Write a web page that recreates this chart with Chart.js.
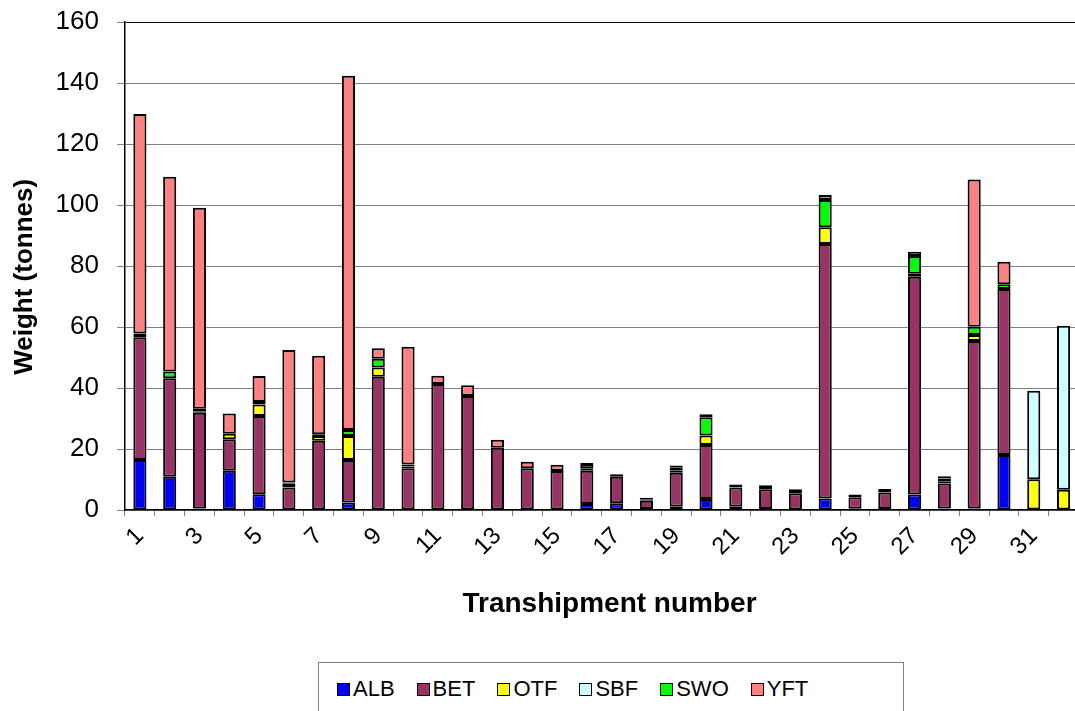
<!DOCTYPE html>
<html lang="en">
<head>
    <meta charset="UTF-8">
    <title>Transhipment weights</title>
    <script src="https://cdn.jsdelivr.net/npm/chart.js"></script>
    <style>
        body {
            margin: 0;
            padding: 0;
            background: #fff;
            overflow: hidden;
            font-family: 'Liberation Sans', Arial, sans-serif;
        }
        #wrap {
            position: relative;
            width: 1090px;
            height: 711px;
        }
        #chartBox {
            position: absolute;
            left: 0;
            top: 0;
            width: 1090px;
            height: 640px;
        }
        #legend {
            position: absolute;
            left: 318px;
            top: 662px;
            width: 586px;
            height: 60px;
            border: 1px solid #808080;
            box-sizing: border-box;
            display: flex;
            justify-content: flex-start;
            padding: 13px 0 0 18px;
            font-size: 22px;
            color: #000;
        }
        .item {
            display: flex;
            align-items: center;
            margin-right: 22px;
            height: 26px;
        }
        .swatch {
            width: 11px;
            height: 11px;
            border: 1.5px solid #000;
            margin-right: 3px;
        }
    </style>
</head>
<body>

<div id="wrap">
    <div id="chartBox"><canvas id="chart"></canvas></div>
    <div id="legend"></div>
</div>

<script>
    // transhipment numbers
    const categories = ['1', '2', '3', '4', '5', '6', '7', '8', '9', '10', '11', '12', '13', '14', '15', '16',
        '17', '18', '19', '20', '21', '22', '23', '24', '25', '26', '27', '28', '29', '30', '31', '32'];

    // weight by species (tonnes)
    const alb = [16.4, 10.9, 0.5, 12.9, 5.2, 0, 0, 2.5, 0, 0, 0, 0, 0, 0, 0, 2.0,
        2.2, 0.3, 1.1, 3.6, 1.1, 0.3, 0, 3.8, 0.4, 0.3, 5.1, 0.5, 0.5, 18.0, 0, 0];
    const bet = [40.2, 32.3, 31.4, 10.3, 25.6, 7.4, 22.7, 13.9, 43.7, 13.7, 41.3, 37.4, 20.4, 13.7, 12.8, 10.9,
        8.7, 2.7, 11.1, 17.7, 6.3, 6.5, 5.5, 83.4, 3.8, 5.4, 71.4, 8.2, 54.9, 54.5, 0, 0];
    const otf = [0, 0, 0.5, 1.8, 3.8, 1.2, 1.6, 7.9, 3.0, 0.6, 0, 0, 0, 0, 0, 0.8,
        0, 0.5, 0.8, 3.1, 0, 0, 0, 5.5, 0, 0, 1.0, 0.6, 2.0, 0, 10.1, 6.6];
    const sbf = [0, 0, 0, 0, 0, 0, 0, 0, 0, 0, 0, 0, 0, 0, 0, 0,
        0, 0, 0, 0, 0, 0, 0, 0, 0, 0, 0, 0, 0, 0, 29.0, 53.8];
    const swo = [1.3, 2.2, 0.8, 0, 0.8, 0.4, 0.5, 1.9, 2.9, 0.6, 0, 0, 0, 0, 0, 1.4,
        0.8, 0.5, 1.0, 6.0, 1.0, 1.3, 1.3, 8.9, 0.9, 1.2, 5.8, 1.0, 2.7, 1.5, 0, 0];
    const yft = [71.9, 63.9, 65.9, 6.6, 8.5, 43.5, 25.8, 116.2, 3.4, 38.6, 2.7, 3.5, 2.6, 2.1, 2.0, 0.3,
        0, 0, 0.6, 1.0, 0, 0, 0, 1.7, 0, 0, 1.4, 0.8, 48.3, 7.4, 0, 0];

    const species = ['ALB', 'BET', 'OTF', 'SBF', 'SWO', 'YFT'];
    const colors = ['#0000FF', '#993366', '#FFFF00', '#CCFFFF', '#00FF00', '#FF8080'];
    const series = [alb, bet, otf, sbf, swo, yft];

    const font = "'Liberation Sans', Arial, sans-serif";

    const datasets = species.map((name, i) => ({
        label: name,
        data: series[i],
        backgroundColor: colors[i],
        borderColor: '#000',
        borderWidth: 2,
        borderSkipped: false,
        barPercentage: 0.44,
        categoryPercentage: 1.0
    }));

    new Chart(document.getElementById('chart'), {
        type: 'bar',
        data: { labels: categories, datasets: datasets },
        options: {
            responsive: true,
            maintainAspectRatio: false,
            animation: false,
            layout: { padding: { top: 22, right: 5, left: 0, bottom: 0 } },
            plugins: {
                legend: { display: false },
                tooltip: { enabled: false }
            },
            scales: {
                x: {
                    stacked: true,
                    afterFit: (s) => { s.height = 130; },
                    grid: {
                        drawOnChartArea: false,
                        drawTicks: true,
                        tickLength: 6,
                        tickColor: '#808080'
                    },
                    border: { color: '#000', width: 1.5 },
                    ticks: {
                        autoSkip: false,
                        minRotation: 45,
                        maxRotation: 45,
                        padding: 6,
                        color: '#000',
                        font: { family: font, size: 24 },
                        callback: function (v, i) { return i % 2 === 0 ? categories[i] : ''; }
                    },
                    title: {
                        display: true,
                        // leading spaces push the centred title a few px right
                        text: '  Transhipment number',
                        color: '#000',
                        font: { family: font, size: 28, weight: 'bold' },
                        padding: { top: 0, bottom: 19 }
                    }
                },
                y: {
                    stacked: true,
                    min: 0,
                    max: 160,
                    // fixed width; small top padding so the plot starts where the original does
                    afterFit: (s) => { s.width = 125; s.paddingTop = 10; },
                    grid: {
                        color: (c) => c.tick && c.tick.value === 160 ? '#000' : '#808080',
                        lineWidth: 1,
                        tickLength: 8,
                        tickColor: '#808080'
                    },
                    border: { color: '#000', width: 1.5 },
                    ticks: {
                        stepSize: 20,
                        padding: 18,
                        color: '#000',
                        font: { family: font, size: 26 }
                    },
                    title: {
                        display: true,
                        // trailing spaces nudge the rotated title down a little, as in the original
                        text: 'Weight (tonnes)   ',
                        color: '#000',
                        font: { family: font, size: 26, weight: 'bold' },
                        padding: { top: 9, bottom: 0 }
                    }
                }
            }
        }
    });

    // legend box under the chart
    const legend = document.getElementById('legend');
    species.forEach((name, i) => {
        const item = document.createElement('div');
        item.className = 'item';
        const sw = document.createElement('span');
        sw.className = 'swatch';
        sw.style.background = colors[i];
        const txt = document.createElement('span');
        txt.textContent = name;
        item.appendChild(sw);
        item.appendChild(txt);
        legend.appendChild(item);
    });
</script>

</body>
</html>
